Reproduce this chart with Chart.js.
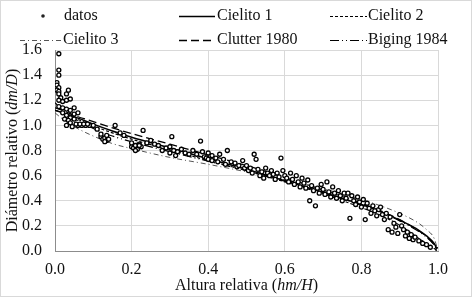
<!DOCTYPE html>
<html>
<head>
<meta charset="utf-8">
<script src="https://cdn.jsdelivr.net/npm/chart.js@4/dist/chart.umd.min.js"></script>
<style>
html,body{margin:0;padding:0;background:#fff;}
canvas{display:block;}
</style>
</head>
<body>
<canvas id="c" width="472" height="297"></canvas>
<script>
// ---- data ----
const xTickLabels = ['0.0','0.2','0.4','0.6','0.8','1.0'];
const yTickLabels = ['0.0','0.2','0.4','0.6','0.8','1.0','1.2','1.4','1.6'];

const datosX = [
 0.01,0.01,0.01,0.005,0.005,0.01,0.005,0.01,0.01,0.015,0.01,0.02,0.03,0.03,0.035,0.04,0.01,0.02,0.03,0.04,0.05,0.02,0.03,0.04,0.025,0.035,0.04,0.03,0.05,0.06,0.05,0.045,0.06,0.07,0.08,0.09,0.1,0.055,0.065,0.075,0.085,
 0.11,0.12,0.125,0.13,0.135,0.14,0.13,0.157,0.17,0.18,0.2,0.205,0.21,0.215,0.22,0.225,0.23,0.24,0.25,0.12,0.135,0.2,0.21,0.22,
 0.26,0.27,0.28,0.29,0.3,0.3,0.305,0.31,0.315,0.32,0.33,0.34,0.35,0.36,0.37,0.38,0.385,0.39,0.395,0.4,0.405,0.41,0.42,0.425,0.43,0.44,0.45,0.445,0.4,0.41,
 0.46,0.47,0.475,0.48,0.49,0.495,0.5,0.505,0.51,0.515,0.52,0.525,0.53,0.535,0.54,0.545,0.55,0.555,0.56,0.565,0.57,0.575,0.58,0.585,0.59,0.595,0.6,
 0.605,0.61,0.615,0.62,0.625,0.63,0.635,0.64,0.645,0.65,0.655,0.66,0.665,0.67,0.675,0.68,0.685,0.69,0.695,0.7,0.705,0.71,0.715,0.72,0.725,0.73,0.735,0.74,0.745,0.75,
 0.755,0.76,0.765,0.77,0.775,0.78,0.785,0.79,0.795,0.8,0.805,0.81,0.815,0.82,0.825,0.83,0.835,0.84,0.845,0.85,0.855,0.86,0.865,0.87,0.875,0.88,0.885,0.89,0.9,0.895,
 0.905,0.91,0.915,0.92,0.925,0.93,0.935,0.94,0.95,0.96,0.97,0.98,1.0
];
const datosY = [
 1.57,1.44,1.40,1.34,1.32,1.30,1.28,1.27,1.25,1.22,1.20,1.19,1.20,1.25,1.28,1.21,1.15,1.14,1.13,1.12,1.14,1.10,1.08,1.06,1.05,1.04,1.02,1.00,1.09,1.10,1.05,0.99,1.00,1.00,1.00,1.00,1.00,1.01,1.01,1.01,1.01,
 0.97,0.91,0.89,0.90,0.88,0.89,0.87,1.00,0.94,0.92,0.83,0.82,0.84,0.81,0.85,0.83,0.96,0.86,0.88,0.93,0.92,0.86,0.80,0.84,
 0.85,0.84,0.80,0.82,0.78,0.83,0.91,0.80,0.76,0.79,0.81,0.78,0.77,0.80,0.77,0.875,0.79,0.75,0.74,0.73,0.76,0.72,0.74,0.71,0.77,0.73,0.80,0.69,0.78,0.76,
 0.71,0.70,0.67,0.68,0.72,0.66,0.68,0.64,0.66,0.62,0.77,0.73,0.65,0.60,0.63,0.58,0.66,0.62,0.60,0.64,0.61,0.57,0.62,0.59,0.74,0.64,0.60,
 0.58,0.55,0.62,0.57,0.53,0.60,0.55,0.51,0.58,0.54,0.50,0.565,0.40,0.52,0.48,0.36,0.50,0.46,0.53,0.49,0.45,0.55,0.47,0.43,0.51,0.46,0.42,0.48,0.44,0.40,
 0.46,0.42,0.46,0.26,0.44,0.40,0.37,0.43,0.39,0.35,0.41,0.25,0.38,0.34,0.30,0.36,0.32,0.28,0.33,0.35,0.29,0.25,0.30,0.17,0.27,0.15,0.22,0.19,0.29,0.14,
 0.20,0.17,0.12,0.15,0.10,0.13,0.09,0.11,0.08,0.06,0.05,0.03,0.01
];

const curveX   = [0,0.02,0.05,0.1,0.15,0.2,0.3,0.4,0.5,0.6,0.7,0.8,0.85,0.9,0.95,0.97,0.99,1];
const cielito1 = [1.12,1.10,1.07,1.01,0.955,0.905,0.82,0.735,0.65,0.56,0.465,0.37,0.315,0.245,0.165,0.12,0.06,0];
const cielito2 = [1.12,1.10,1.06,0.995,0.94,0.89,0.805,0.72,0.64,0.55,0.455,0.345,0.285,0.205,0.10,0.06,0.02,0];
const cielito3 = [1.10,1.05,0.99,0.915,0.855,0.815,0.745,0.69,0.63,0.565,0.495,0.41,0.36,0.30,0.22,0.17,0.10,0];
const clutter  = [1.14,1.12,1.08,1.03,0.98,0.935,0.85,0.765,0.68,0.585,0.485,0.38,0.32,0.25,0.16,0.115,0.05,0];
const biging   = [1.18,1.12,1.055,0.975,0.915,0.87,0.79,0.715,0.64,0.555,0.465,0.365,0.31,0.24,0.155,0.11,0.05,0];

// ---- build ----
const pts = (xs, ys) => xs.map((x, i) => ({x: x, y: ys[i]}));
const FONT = '"Liberation Serif", "Times New Roman", serif';

const series = [
  {label:'Cielito 1',   data: cielito1, color:'#000', width:1.5, dash:[]},
  {label:'Cielito 2',   data: cielito2, color:'#000', width:1.2, dash:[3,2]},
  {label:'Cielito 3',   data: cielito3, color:'#555', width:1,   dash:[5,3,1,3]},
  {label:'Clutter 1980',data: clutter,  color:'#000', width:1.3, dash:[8,4]},
  {label:'Biging 1984', data: biging,   color:'#000', width:1.2, dash:[9,3,1,3,1,3]}
];

const datasets = [{
  label:'datos', data: pts(datosX, datosY), showLine:false,
  pointRadius:2, pointBorderWidth:1.3, pointBorderColor:'#000', pointBackgroundColor:'#fff', pointStyle:'circle'
}].concat(series.map(s => ({
  label:s.label, data: pts(curveX, s.data), showLine:true, pointRadius:0,
  borderColor:s.color, borderWidth:s.width, borderDash:s.dash, fill:false,
  cubicInterpolationMode:'monotone'
})));

function drawMixed(ctx, parts, cx, cy) {
  let total = 0;
  parts.forEach(p => { ctx.font = (p.i ? 'italic ' : '') + '16px ' + FONT; p.w = ctx.measureText(p.t).width; total += p.w; });
  let x = cx - total / 2;
  parts.forEach(p => { ctx.font = (p.i ? 'italic ' : '') + '16px ' + FONT; ctx.fillText(p.t, x, cy); x += p.w; });
}

const decor = {
  id:'decor',
  beforeDraw(chart) {
    const ctx = chart.ctx;
    ctx.save(); ctx.fillStyle = '#fff'; ctx.fillRect(0,0,chart.width,chart.height); ctx.restore();
  },
  afterDraw(chart) {
    const ctx = chart.ctx;
    ctx.save();
    // outer border
    ctx.strokeStyle = '#d9d9d9'; ctx.lineWidth = 1; ctx.setLineDash([]);
    ctx.strokeRect(0.5, 0.5, chart.width - 1, chart.height - 1);
    ctx.fillStyle = '#111'; ctx.textBaseline = 'middle'; ctx.textAlign = 'left';
    // legend
    const slots = [
      {lx0:null, tx:64,  y:16},
      {lx0:179, lx1:215, tx:217, y:16},
      {lx0:330, lx1:367, tx:368, y:16},
      {lx0:20,  lx1:62,  tx:63,  y:40},
      {lx0:179, lx1:215, tx:217, y:40},
      {lx0:330, lx1:367, tx:368, y:40}
    ];
    chart.data.datasets.forEach((ds, i) => {
      const s = slots[i];
      if (i === 0) {
        ctx.beginPath(); ctx.arc(43, s.y, 1.8, 0, Math.PI*2);
        ctx.fillStyle = '#222'; ctx.fill();
      } else {
        ctx.beginPath(); ctx.strokeStyle = ds.borderColor; ctx.lineWidth = ds.borderWidth;
        ctx.setLineDash(ds.borderDash); ctx.moveTo(s.lx0, s.y + 0.5); ctx.lineTo(s.lx1, s.y + 0.5); ctx.stroke();
        ctx.setLineDash([]);
      }
      ctx.fillStyle = '#111'; ctx.font = '16px ' + FONT;
      ctx.fillText(ds.label, s.tx, s.y);
    });
    // axis titles
    const a = chart.chartArea;
    ctx.textAlign = 'left';
    drawMixed(ctx, [{t:'Altura relativa ('}, {t:'hm/H', i:true}, {t:')'}], (a.left + a.right) / 2, 286);
    ctx.translate(13, (a.top + a.bottom) / 2);
    ctx.rotate(-Math.PI / 2);
    drawMixed(ctx, [{t:'Diámetro relativo ('}, {t:'dm/D', i:true}, {t:')'}], 0, 0);
    ctx.restore();
  }
};

new Chart(document.getElementById('c'), {
  type:'scatter',
  data:{datasets},
  plugins:[decor],
  options:{
    responsive:false, animation:false, devicePixelRatio:1,
    layout:{padding:{top:50, right:34, left:0, bottom:0}},
    plugins:{legend:{display:false}, tooltip:{enabled:false}},
    scales:{
      x:{
        type:'linear', min:0, max:1,
        afterFit(s){ s.height = 46; },
        afterBuildTicks(s){ s.ticks = xTickLabels.map(t => ({value: parseFloat(t)})); },
        ticks:{ callback:(v) => xTickLabels.find(t => Math.abs(parseFloat(t) - v) < 1e-9) || '', color:'#111', padding:9, font:{family:FONT, size:16}, maxRotation:0 },
        grid:{ color:'#d9d9d9', drawTicks:false },
        border:{ color:'#8c8c8c', width:1 }
      },
      y:{
        type:'linear', min:0, max:1.6,
        afterFit(s){ s.width = 55; },
        afterBuildTicks(s){ s.ticks = yTickLabels.map(t => ({value: parseFloat(t)})); },
        ticks:{ callback:(v) => yTickLabels.find(t => Math.abs(parseFloat(t) - v) < 1e-9) || '', color:'#111', padding:13, font:{family:FONT, size:16} },
        grid:{ color:'#d9d9d9', drawTicks:false },
        border:{ color:'#8c8c8c', width:1 }
      }
    }
  }
});
</script>
</body>
</html>
